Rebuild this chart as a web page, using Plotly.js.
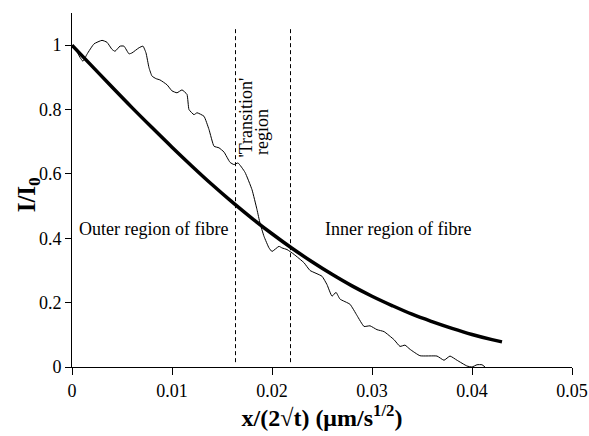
<!DOCTYPE html>
<html>
<head>
<meta charset="utf-8">
<script src="https://cdn.plot.ly/plotly-3.0.1.min.js"></script>
<style>html,body{margin:0;padding:0;background:#fff;}#chart{width:589px;height:436px;}</style>
</head>
<body>
<div id="chart"></div>
<script>
// Thick curve (model)
var modelX = [0, 0.002, 0.004, 0.006, 0.008, 0.010, 0.012, 0.014, 0.016, 0.018, 0.020, 0.022, 0.024, 0.026, 0.028, 0.030, 0.032, 0.034, 0.036, 0.038, 0.040, 0.042, 0.043];
var modelY = [1.000, 0.935, 0.870, 0.806, 0.744, 0.683, 0.624, 0.567, 0.513, 0.462, 0.414, 0.369, 0.327, 0.288, 0.252, 0.220, 0.191, 0.164, 0.141, 0.120, 0.101, 0.085, 0.078];

// Thin curve (measured)
var measX = [0, 0.0004, 0.0008, 0.0011, 0.0015, 0.0022, 0.0030, 0.0035, 0.0040, 0.0043, 0.0048, 0.0052, 0.0057, 0.0060, 0.0067, 0.0071, 0.0074, 0.0077, 0.0080, 0.0084, 0.0088, 0.0095, 0.0100, 0.0105, 0.0110, 0.0115, 0.0117, 0.0122, 0.0125, 0.0132, 0.0137, 0.0142, 0.0147, 0.0152, 0.0158, 0.0162, 0.0166, 0.0173, 0.0180, 0.0185, 0.0188, 0.0192, 0.0197, 0.0200, 0.0207, 0.0210, 0.0215, 0.0222, 0.0232, 0.0238, 0.0250, 0.0255, 0.0260, 0.0264, 0.0268, 0.0278, 0.0285, 0.0292, 0.0298, 0.0305, 0.0312, 0.0322, 0.0328, 0.0333, 0.0338, 0.0348, 0.0365, 0.0372, 0.0378, 0.0385, 0.0395, 0.0400, 0.0405, 0.0410, 0.0413];
var measY = [1.000, 0.985, 0.962, 0.950, 0.972, 1.004, 1.015, 1.009, 0.987, 0.981, 0.997, 0.997, 0.973, 0.976, 0.992, 0.997, 0.976, 0.930, 0.904, 0.896, 0.892, 0.877, 0.858, 0.852, 0.861, 0.847, 0.800, 0.784, 0.790, 0.779, 0.738, 0.686, 0.681, 0.668, 0.636, 0.629, 0.634, 0.605, 0.551, 0.489, 0.447, 0.406, 0.370, 0.359, 0.375, 0.370, 0.365, 0.350, 0.324, 0.300, 0.282, 0.256, 0.220, 0.232, 0.211, 0.195, 0.160, 0.126, 0.128, 0.116, 0.110, 0.085, 0.064, 0.068, 0.055, 0.035, 0.034, 0.021, 0.034, 0.021, 0.003, 0.000, 0.007, 0.007, 0.000];

// Region boundaries
var boundaryX = [0.01635, 0.02185];

// Tick values
var xTicks = [0, 0.01, 0.02, 0.03, 0.04, 0.05];
var xTickText = ['0', '0.01', '0.02', '0.03', '0.04', '0.05'];
var yTicks = [0, 0.2, 0.4, 0.6, 0.8, 1];
var yTickText = ['0', '0.2', '0.4', '0.6', '0.8', '1'];

var FONT = 'Liberation Serif, Times New Roman, serif';

var traces = [
  {x: measX, y: measY, mode: 'lines', line: {color: '#000', width: 1, shape: 'spline', smoothing: 0.4}, hoverinfo: 'skip'},
  {x: modelX, y: modelY, mode: 'lines', line: {color: '#000', width: 3.5, shape: 'spline'}, hoverinfo: 'skip'}
];

var shapes = boundaryX.map(function (bx) {
  return {type: 'line', xref: 'x', yref: 'y', x0: bx, x1: bx, y0: 0.015, y1: 1.05,
          line: {color: '#000', width: 1, dash: '4px,3px'}};
});

var annotations = [
  {x: 0.0005, y: 0.43, xref: 'x', yref: 'y', text: 'Outer region of fibre', showarrow: false, xanchor: 'left', yanchor: 'middle', font: {family: FONT, size: 18, color: '#000'}},
  {x: 0.0251, y: 0.43, xref: 'x', yref: 'y', text: 'Inner region of fibre', showarrow: false, xanchor: 'left', yanchor: 'middle', font: {family: FONT, size: 18, color: '#000'}},
  {x: 0.0174, y: 0.775, xref: 'x', yref: 'y', text: "'Transition'", showarrow: false, textangle: -90, xanchor: 'center', yanchor: 'middle', font: {family: FONT, size: 18, color: '#000'}},
  {x: 0.0190, y: 0.73, xref: 'x', yref: 'y', text: 'region', showarrow: false, textangle: -90, xanchor: 'center', yanchor: 'middle', font: {family: FONT, size: 18, color: '#000'}},
  {x: -0.088, y: 0.485, xref: 'paper', yref: 'paper', text: '<b>I/I<sub>0</sub></b>', showarrow: false, textangle: -90, xanchor: 'center', yanchor: 'middle', font: {family: FONT, size: 25, color: '#000'}}
];

var layout = {
  width: 589, height: 436,
  margin: {l: 72, r: 17, t: 13, b: 69, pad: 0},
  paper_bgcolor: '#fff', plot_bgcolor: '#fff',
  showlegend: false,
  font: {family: FONT, size: 18, color: '#000'},
  xaxis: {
    range: [0, 0.05], tickvals: xTicks, ticktext: xTickText,
    showgrid: false, zeroline: false, showline: true, linecolor: '#000', linewidth: 1,
    ticks: 'outside', ticklen: 7, tickcolor: '#000', tickwidth: 1,
    tickfont: {family: FONT, size: 18, color: '#000'},
    title: {text: '<b>x/(2√t) (μm/s<sup>1/2</sup>)</b>', font: {family: FONT, size: 24, color: '#000'}, standoff: 4},
    automargin: false
  },
  yaxis: {
    range: [0, 1.1], tickvals: yTicks, ticktext: yTickText,
    showgrid: false, zeroline: false, showline: true, linecolor: '#000', linewidth: 1,
    ticks: 'outside', ticklen: 6, tickcolor: '#000', tickwidth: 1,
    tickfont: {family: FONT, size: 18, color: '#000'},
    automargin: false
  },
  shapes: shapes,
  annotations: annotations
};

Plotly.newPlot('chart', traces, layout, {staticPlot: true, displayModeBar: false});
</script>
</body>
</html>
